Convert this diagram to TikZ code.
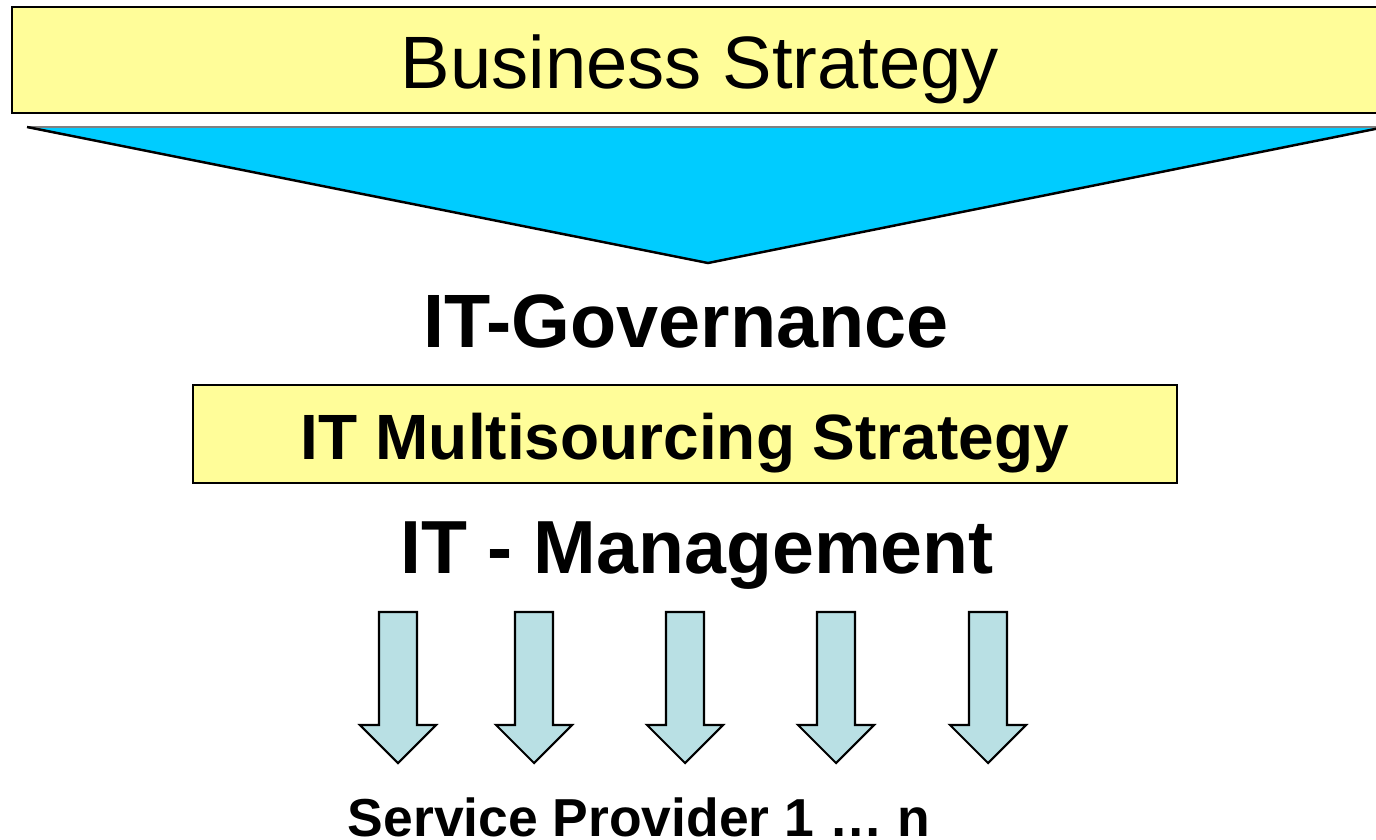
\documentclass[tikz,border=0pt]{standalone}
\usepackage{fontspec}
\setmainfont{Liberation Sans}
\definecolor{boxyellow}{RGB}{255,253,153}
\definecolor{wedgeblue}{RGB}{0,204,255}
\definecolor{arrowblue}{RGB}{185,224,228}
\begin{document}
\begin{tikzpicture}[x=0.01cm, y=-0.01cm, line width=0.7pt]
		\useasboundingbox (0,0) rectangle (1376,839);
		
		\draw[fill=boxyellow] (12,7) rectangle (1385,113);
		\node[anchor=base] (B) at (700,88) {\fontsize{21.1}{25}\selectfont Business Strategy};
		
		\fill[wedgeblue] (27,127) -- (1385,127) -- (708,263) -- cycle;
		\draw[gray, line width=0.5pt] (27,127) -- (1385,127);
		\draw (27,127) -- (708,263) -- (1385,127);
		
		\node[anchor=base] (G) at (686,347) {\fontsize{21.5}{26}\selectfont\bfseries IT-Governance};
		
		\draw[fill=boxyellow] (193,385) rectangle (1177,483);
		\node[anchor=base] (M) at (685,459) {\fontsize{18.2}{22}\selectfont\bfseries IT Multisourcing Strategy};
		
		\node[anchor=base] (I) at (697,573) {\fontsize{21.4}{26}\selectfont\bfseries IT - Management};
		
		\foreach \c in {398,534,685,836,988}
		\draw[fill=arrowblue, line width=0.6pt] (\c-19,612) -- (\c+19,612) -- (\c+19,725) -- (\c+38,725)
			-- (\c,763) -- (\c-38,725) -- (\c-19,725) -- cycle;
		
		\node[anchor=base] (P) at (639,836) {\fontsize{15.2}{18}\selectfont\bfseries Service Provider 1 … n};
		\end{tikzpicture}
\end{document}
